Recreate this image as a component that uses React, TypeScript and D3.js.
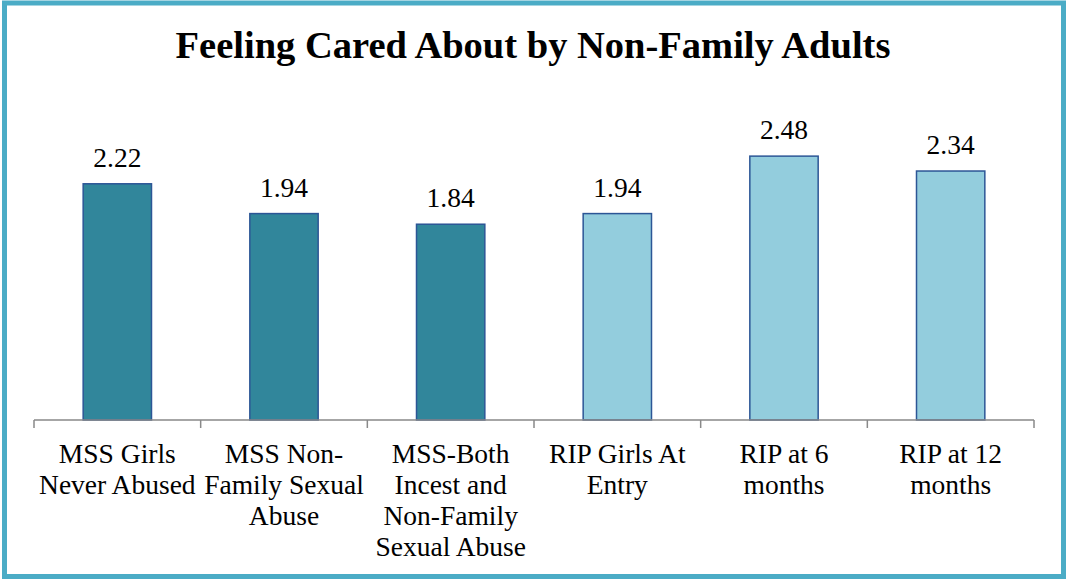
import React from "react";
import * as d3 from "d3";

const categories: string[][] = [
  ["MSS Girls", "Never Abused"],
  ["MSS Non-", "Family Sexual", "Abuse"],
  ["MSS-Both", "Incest and", "Non-Family", "Sexual Abuse"],
  ["RIP Girls At", "Entry"],
  ["RIP at 6", "months"],
  ["RIP at 12", "months"],
];
const values: number[] = [2.22, 1.94, 1.84, 1.94, 2.48, 2.34];
const groups: string[] = ["MSS", "MSS", "MSS", "RIP", "RIP", "RIP"];
const title = "Feeling Cared About by Non-Family Adults";

const W = 1066;
const H = 579;
const FONT = "'Liberation Serif', 'Times New Roman', serif";

export default function App() {
  const left = 34;
  const right = 1034;
  const baseline = 420;
  const x = d3
    .scaleBand<number>()
    .domain(d3.range(values.length))
    .range([left, right])
    .paddingInner(0.59)
    .paddingOuter(0.295);
  const y = d3.scaleLinear().domain([0, 3]).range([baseline, baseline - 319.2]);
  const color = d3.scaleOrdinal<string, string>().domain(["MSS", "RIP"]).range(["#31869B", "#93CDDD"]);
  const step = (right - left) / values.length;
  const tickXs = d3.range(values.length + 1).map((i) => left + i * step);

  return (
    <svg width={W} height={H} style={{ position: "absolute", left: 0, top: 0, background: "#fff" }}>
      <rect x={0} y={0} width={W} height={H} fill="#fff" />
      <rect x={4.5} y={3} width={1059} height={573.5} fill="none" stroke="#4BACC6" strokeWidth={5} />
      <text
        x={533}
        y={58}
        textAnchor="middle"
        fontFamily={FONT}
        fontWeight="bold"
        fontSize={38.5}
        fill="#000"
      >
        {title}
      </text>
      {values.map((v, i) => (
        <g key={i}>
          <rect
            x={x(i)!}
            y={y(v)}
            width={x.bandwidth()}
            height={baseline - y(v)}
            fill={color(groups[i])}
            stroke="#2C5696"
            strokeWidth={1.5}
          />
          <text
            x={x(i)! + x.bandwidth() / 2}
            y={y(v) - 17}
            textAnchor="middle"
            fontFamily={FONT}
            fontSize={27.5}
            fill="#000"
          >
            {v.toFixed(2)}
          </text>
        </g>
      ))}
      <line x1={left} x2={right} y1={baseline} y2={baseline} stroke="#898989" strokeWidth={1.5} />
      {tickXs.map((tx, i) => (
        <line key={i} x1={tx} x2={tx} y1={baseline} y2={baseline + 8} stroke="#898989" strokeWidth={1.5} />
      ))}
      {categories.map((lines, i) => (
        <text
          key={i}
          x={x(i)! + x.bandwidth() / 2}
          textAnchor="middle"
          fontFamily={FONT}
          fontSize={27.5}
          fill="#000"
        >
          {lines.map((ln, j) => (
            <tspan key={j} x={x(i)! + x.bandwidth() / 2} y={463 + j * 31}>
              {ln}
            </tspan>
          ))}
        </text>
      ))}
    </svg>
  );
}
